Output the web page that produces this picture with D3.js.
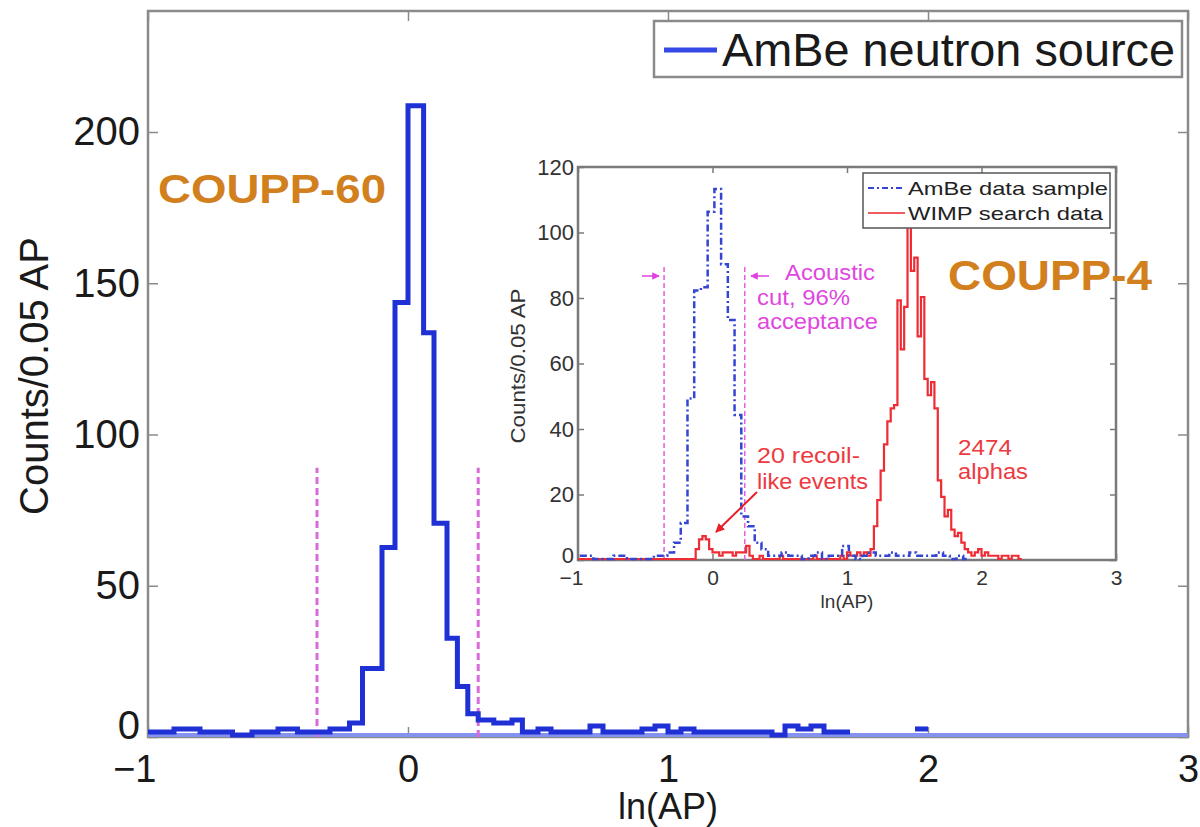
<!DOCTYPE html>
<html>
<head>
<meta charset="utf-8">
<script src="https://cdn.jsdelivr.net/npm/d3@7"></script>
<style>
  body { margin: 0; background: #fff; }
  text { font-family: "Liberation Sans", Arial, sans-serif; }
</style>
</head>
<body>
<script>
// ---- main histogram (COUPP-60, AmBe neutron source) ----
var mainEdges = [-1, -0.9, -0.8, -0.675, -0.6, -0.5, -0.425, -0.3, -0.225, -0.175,
  -0.1, -0.05, 0, 0.06, 0.1, 0.15, 0.19, 0.23, 0.27, 0.33, 0.4, 0.44, 0.5, 0.55,
  0.6, 0.65, 0.7, 0.75, 0.8, 0.85, 0.9, 0.95, 1.0, 1.05, 1.1, 1.15, 1.2, 1.25,
  1.3, 1.35, 1.4, 1.45, 1.5, 1.55, 1.6, 1.65, 1.7];
var mainCounts = [1, 2, 1, 0, 1, 2, 1, 2, 4, 22,
  62, 143, 208, 133, 70, 32, 16, 7, 5, 4, 5, 1, 2, 1,
  1, 1, 3, 1, 1, 1, 2, 3, 1, 2, 1, 1, 1, 1,
  1, 1, 0, 3, 2, 3, 1, 1];
// lone small bin near ln(AP) = 2
var spikeEdges = [1.95, 2.0];
var spikeCounts = [2];
var mainCuts = [-0.35, 0.27];
var mainCutTop = 89;
var mainXTicks = [-1, 0, 1, 2, 3];
var mainYTicks = [0, 50, 100, 150, 200];

// ---- inset (COUPP-4) ----
var ambeStart = -0.986, ambeWidth = 0.05;
var ambeCounts = [1, 1, 0, 0, 0, 1, 1, 0, 0, 0, 0, 1, 1, 2, 5, 11,
  49, 82, 83, 106, 113, 90, 73, 44, 13, 10, 5, 3,
  1, 1, 2, 1, 1, 0, 1, 2, 0, 1, 1, 4, 1, 0, 1, 2, 1, 1, 2, 1, 1, 2,
  1, 1, 1, 2, 1, 0, 1, 0];
var wimpStart = -1, wimpWidth = 0.025;
var wimpCounts = [
  0, 0, 0, 0, 0, 0, 0, 0, 0, 0, 0, 0, 0, 0, 0, 0, 0, 0, 0, 0,
  0, 0, 0, 0, 0, 0, 0, 0, 0, 0, 0, 0, 0, 0, 0,
  3, 6, 7, 6, 3,
  2, 2, 1, 2, 2, 2, 1, 2, 2, 2, 4, 1,
  0, 0, 1, 0, 0, 0, 0, 0, 1, 0, 0, 0, 0, 0, 0, 0, 0, 0, 1, 0, 0, 0, 0, 0, 0, 0, 1, 0,
  2, 1, 1, 2, 1, 2, 1, 3, 10, 18, 27, 35, 42, 46, 47, 79, 64, 77, 102, 88,
  92, 68, 80, 55, 50, 54, 46, 24, 19, 13, 15, 9, 7, 8, 5, 3, 2, 1, 2, 3,
  1, 2, 1, 1, 1, 0, 1, 1, 0, 1, 1, 0];
var insetCuts = [-0.36, 0.24];
var insetCutTop = 90;
var insetXTicks = [-1, 0, 1, 2, 3];
var insetYTicks = [0, 20, 40, 60, 80, 100, 120];

var W = 1200, H = 827;
var svg = d3.select("body").append("svg").attr("width", W).attr("height", H);

var defs = svg.append("defs");
defs.append("marker").attr("id", "headMag").attr("viewBox", "0 0 10 10")
  .attr("refX", 9).attr("refY", 5).attr("markerWidth", 5).attr("markerHeight", 5)
  .attr("orient", "auto-start-reverse")
  .append("path").attr("d", "M0,0L10,5L0,10z").attr("fill", "#e040e0");
defs.append("marker").attr("id", "headRed").attr("viewBox", "0 0 10 10")
  .attr("refX", 9).attr("refY", 5).attr("markerWidth", 4.5).attr("markerHeight", 4.5)
  .attr("orient", "auto")
  .append("path").attr("d", "M0,0L10,5L0,10z").attr("fill", "#e8202a");

function stairPoints(edges, counts) {
  var pts = counts.map(function(c, i) { return [edges[i], c]; });
  pts.push([edges[edges.length - 1], counts[counts.length - 1]]);
  return pts;
}
function uniformEdges(start, width, n) {
  return d3.range(n + 1).map(function(i) { return start + i * width; });
}

// ================= main plot =================
var x = d3.scaleLinear().domain([-1, 3]).range([148, 1188]);
var y = d3.scaleLinear().domain([0, 240]).range([737, 11]);
var gridColor = "#8a8a8a";

var main = svg.append("g");
main.append("rect").attr("x", x(-1)).attr("y", y(240))
  .attr("width", x(3) - x(-1)).attr("height", y(0) - y(240))
  .attr("fill", "none").attr("stroke", gridColor).attr("stroke-width", 2.5);

function styleAxis(g, col) {
  g.select(".domain").remove();
  g.selectAll(".tick line").attr("stroke", col).attr("stroke-width", 1.5);
}

var fmt = d3.format("d");
var gxB = main.append("g").attr("transform", "translate(0," + y(0) + ")")
  .call(d3.axisBottom(x).tickValues(mainXTicks).tickSize(-10).tickPadding(18).tickFormat(fmt));
styleAxis(gxB, gridColor);
gxB.selectAll("text").attr("font-size", 38).attr("fill", "#1a1a1a")
  .attr("font-family", "Liberation Sans, Arial, sans-serif")
  .attr("text-anchor", function(d) { return d < 0 ? "end" : "middle"; })
  .attr("dx", function(d) { return d < 0 ? 8 : 0; });
var gxT = main.append("g").attr("transform", "translate(0," + y(240) + ")")
  .call(d3.axisTop(x).tickValues(mainXTicks).tickSize(-10).tickFormat(""));
styleAxis(gxT, gridColor);
var gyL = main.append("g").attr("transform", "translate(" + x(-1) + ",0)")
  .call(d3.axisLeft(y).tickValues(mainYTicks).tickSize(-10).tickPadding(8).tickFormat(fmt));
styleAxis(gyL, gridColor);
gyL.selectAll("text").attr("font-size", 40).attr("fill", "#1a1a1a")
  .attr("font-family", "Liberation Sans, Arial, sans-serif");
// the 0 label sits a little high so it clears the -1 below it
gyL.selectAll("text").filter(function(d) { return d === 0; }).attr("dy", "0.04em");
var gyR = main.append("g").attr("transform", "translate(" + x(3) + ",0)")
  .call(d3.axisRight(y).tickValues(mainYTicks).tickSize(-10).tickFormat(""));
styleAxis(gyR, gridColor);

main.append("text").attr("x", x(1)).attr("y", 819).attr("text-anchor", "middle")
  .attr("font-size", 36).attr("fill", "#1a1a1a").text("ln(AP)");
main.append("text").attr("transform", "translate(48,376) rotate(-90)")
  .attr("text-anchor", "middle").attr("font-size", 40).attr("fill", "#1a1a1a")
  .text("Counts/0.05 AP");

// pale zero level running across the whole axis
main.append("line").attr("x1", x(-1)).attr("x2", x(3))
  .attr("y1", y(0) - 2).attr("y2", y(0) - 2)
  .attr("stroke", "#8592f0").attr("stroke-width", 4);

// acoustic cut lines
main.selectAll(".mcut").data(mainCuts).enter().append("line")
  .attr("x1", function(d) { return x(d); }).attr("x2", function(d) { return x(d); })
  .attr("y1", y(0)).attr("y2", y(mainCutTop))
  .attr("stroke", "#d96ad9").attr("stroke-width", 3).attr("stroke-dasharray", "7,4");

var mainLine = d3.line().x(function(d) { return x(d[0]); })
  .y(function(d) { return y(d[1]) - 2; }).curve(d3.curveStepAfter);
[stairPoints(mainEdges, mainCounts), stairPoints(spikeEdges, spikeCounts)].forEach(function(pts) {
  main.append("path").datum(pts)
    .attr("d", mainLine).attr("fill", "none")
    .attr("stroke", "#1f30d4").attr("stroke-width", 5).attr("stroke-linejoin", "miter");
});

// legend
main.append("rect").attr("x", 654).attr("y", 21).attr("width", 528).attr("height", 56)
  .attr("fill", "#fff").attr("stroke", gridColor).attr("stroke-width", 2.5);
main.append("line").attr("x1", 664).attr("x2", 717).attr("y1", 50).attr("y2", 50)
  .attr("stroke", "#3448e6").attr("stroke-width", 5);
main.append("text").attr("x", 722).attr("y", 66).attr("font-size", 46)
  .attr("textLength", 453).attr("lengthAdjust", "spacingAndGlyphs")
  .attr("fill", "#1a1a1a").text("AmBe neutron source");

main.append("text").attr("x", 158).attr("y", 203).attr("font-size", 40)
  .attr("font-weight", "bold").attr("fill", "#d27f1e")
  .attr("textLength", 228).attr("lengthAdjust", "spacingAndGlyphs").text("COUPP-60");

// ================= inset =================
var xi = d3.scaleLinear().domain([-1, 3]).range([578, 1116]);
var yi = d3.scaleLinear().domain([0, 120]).range([560, 167]);
var inset = svg.append("g");
var insetCol = "#7a7a7a";

inset.append("rect").attr("x", xi(-1)).attr("y", yi(120))
  .attr("width", xi(3) - xi(-1)).attr("height", yi(0) - yi(120))
  .attr("fill", "#fff").attr("stroke", insetCol).attr("stroke-width", 2.5);

var ixB = inset.append("g").attr("transform", "translate(0," + yi(0) + ")")
  .call(d3.axisBottom(xi).tickValues(insetXTicks).tickSize(-6).tickPadding(10).tickFormat(fmt));
styleAxis(ixB, insetCol);
ixB.selectAll("text").attr("font-size", 21).attr("fill", "#333")
  .attr("font-family", "Liberation Sans, Arial, sans-serif")
  .attr("text-anchor", function(d) { return d < 0 ? "end" : "middle"; })
  .attr("dx", function(d) { return d < 0 ? 5 : 0; });
var ixT = inset.append("g").attr("transform", "translate(0," + yi(120) + ")")
  .call(d3.axisTop(xi).tickValues(insetXTicks).tickSize(-6).tickFormat(""));
styleAxis(ixT, insetCol);
var iyL = inset.append("g").attr("transform", "translate(" + xi(-1) + ",0)")
  .call(d3.axisLeft(yi).tickValues(insetYTicks).tickSize(-6).tickPadding(4).tickFormat(fmt));
styleAxis(iyL, insetCol);
iyL.selectAll("text").attr("font-size", 22).attr("fill", "#333")
  .attr("font-family", "Liberation Sans, Arial, sans-serif");
iyL.selectAll("text").filter(function(d) { return d === 0; }).attr("dy", "0.12em");
var iyR = inset.append("g").attr("transform", "translate(" + xi(3) + ",0)")
  .call(d3.axisRight(yi).tickValues(insetYTicks).tickSize(-6).tickFormat(""));
styleAxis(iyR, insetCol);

inset.append("text").attr("x", xi(1)).attr("y", 608).attr("text-anchor", "middle")
  .attr("font-size", 19).attr("fill", "#333").text("ln(AP)");
inset.append("text").attr("transform", "translate(525,366) rotate(-90)")
  .attr("text-anchor", "middle").attr("font-size", 21).attr("fill", "#333")
  .attr("textLength", 155).attr("lengthAdjust", "spacingAndGlyphs").text("Counts/0.05 AP");

inset.selectAll(".icut").data(insetCuts).enter().append("line")
  .attr("x1", function(d) { return xi(d); }).attr("x2", function(d) { return xi(d); })
  .attr("y1", yi(0)).attr("y2", yi(insetCutTop))
  .attr("stroke", "#e060e0").attr("stroke-width", 1.5).attr("stroke-dasharray", "5,3");

var iLine = d3.line().x(function(d) { return xi(d[0]); })
  .y(function(d) { return yi(d[1]) - 1; }).curve(d3.curveStepAfter);
inset.append("path")
  .datum(stairPoints(uniformEdges(wimpStart, wimpWidth, wimpCounts.length), wimpCounts))
  .attr("d", iLine).attr("fill", "none").attr("stroke", "#ee2c34").attr("stroke-width", 2.2);
inset.append("path")
  .datum(stairPoints(uniformEdges(ambeStart, ambeWidth, ambeCounts.length), ambeCounts))
  .attr("d", iLine).attr("fill", "none").attr("stroke", "#3445d2")
  .attr("stroke-width", 2.5).attr("stroke-dasharray", "7,3,2,3");

// cut arrows and annotations
inset.append("line").attr("x1", 642).attr("x2", 659).attr("y1", 276).attr("y2", 276)
  .attr("stroke", "#e040e0").attr("stroke-width", 1.5).attr("marker-end", "url(#headMag)");
inset.append("line").attr("x1", 769).attr("x2", 751).attr("y1", 276).attr("y2", 276)
  .attr("stroke", "#e040e0").attr("stroke-width", 1.5).attr("marker-end", "url(#headMag)");
inset.append("line").attr("x1", 757).attr("x2", 716).attr("y1", 492).attr("y2", 532)
  .attr("stroke", "#e8202a").attr("stroke-width", 2).attr("marker-end", "url(#headRed)");

var magText = [["Acoustic", 785, 280, 90], ["cut, 96%", 757, 305, 93], ["acceptance", 757, 329, 121]];
var redText = [["20 recoil-", 757, 463, 103], ["like events", 757, 489, 111],
  ["2474", 958, 455, 54], ["alphas", 958, 479, 70]];
inset.selectAll(".mag").data(magText).enter().append("text")
  .attr("x", function(d) { return d[1]; }).attr("y", function(d) { return d[2]; })
  .attr("textLength", function(d) { return d[3]; }).attr("lengthAdjust", "spacingAndGlyphs")
  .attr("font-size", 22).attr("fill", "#e046e0").text(function(d) { return d[0]; });
inset.selectAll(".red").data(redText).enter().append("text")
  .attr("x", function(d) { return d[1]; }).attr("y", function(d) { return d[2]; })
  .attr("textLength", function(d) { return d[3]; }).attr("lengthAdjust", "spacingAndGlyphs")
  .attr("font-size", 22).attr("fill", "#ec3a40").text(function(d) { return d[0]; });

// inset legend
inset.append("rect").attr("x", 863).attr("y", 173).attr("width", 247).attr("height", 55)
  .attr("fill", "#fff").attr("stroke", "#555").attr("stroke-width", 1.5);
inset.append("line").attr("x1", 868).attr("x2", 905).attr("y1", 188).attr("y2", 188)
  .attr("stroke", "#3445d2").attr("stroke-width", 2).attr("stroke-dasharray", "6,3,2,3");
inset.append("line").attr("x1", 868).attr("x2", 905).attr("y1", 213).attr("y2", 213)
  .attr("stroke", "#ee5c60").attr("stroke-width", 2);
inset.append("text").attr("x", 908).attr("y", 195).attr("font-size", 19).attr("fill", "#222")
  .attr("textLength", 200).attr("lengthAdjust", "spacingAndGlyphs").text("AmBe data sample");
inset.append("text").attr("x", 908).attr("y", 220).attr("font-size", 19).attr("fill", "#222")
  .attr("textLength", 195).attr("lengthAdjust", "spacingAndGlyphs").text("WIMP search data");

svg.append("text").attr("x", 948).attr("y", 290).attr("font-size", 42)
  .attr("font-weight", "bold").attr("fill", "#d27f1e")
  .attr("textLength", 204).attr("lengthAdjust", "spacingAndGlyphs").text("COUPP-4");
</script>
</body>
</html>
